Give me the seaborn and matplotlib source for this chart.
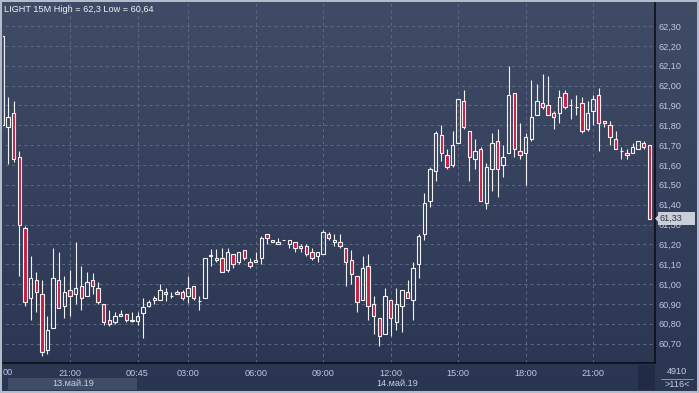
import numpy as np
import pandas as pd
import seaborn as sns
import matplotlib
matplotlib.use("Agg")
import matplotlib.pyplot as plt
from matplotlib.colors import LinearSegmentedColormap
from matplotlib.patches import Rectangle, Polygon
from matplotlib.lines import Line2D

# ---------------- data (15-minute candles, 116 visible) ----------------
opens = [62.25, 61.79, 61.86, 61.64, 61.28, 60.93, 61.02, 60.95, 60.67, 60.78,
         61.02, 60.89, 60.97, 60.95, 60.99, 60.94, 61.02, 60.98, 60.90, 60.82,
         60.81, 60.85, 60.85, 60.815, 60.815, 60.855, 60.89, 60.92, 60.92, 60.96,
         60.94, 60.96, 60.96, 60.94, 60.99, 60.915, 60.93, 61.14, 61.13, 61.13,
         61.07, 61.15, 61.11, 61.17, 61.11, 61.11, 61.13, 61.25, 61.22, 61.20,
         61.22, 61.20, 61.21, 61.19, 61.19, 61.16, 61.14, 61.15, 61.25, 61.21,
         61.21, 61.18, 61.12, 61.04, 60.92, 61.09, 60.90, 60.83, 60.75, 60.92,
         60.81, 60.89, 60.96, 60.92, 61.10, 61.25, 61.42, 61.57, 61.75, 61.65,
         61.60, 61.71, 61.92, 61.77, 61.63, 61.68, 61.41, 61.58, 61.72, 61.60,
         61.66, 61.96, 61.67, 61.66, 61.73, 61.85, 61.91, 61.90, 61.86, 61.86,
         61.96, 61.90, 61.89, 61.91, 61.78, 61.87, 61.95, 61.82, 61.80, 61.73,
         61.67, 61.66, 61.66, 61.68, 61.71, 61.70]
highs = [62.26, 61.94, 61.92, 61.67, 61.29, 61.14, 61.06, 61.02, 60.84, 61.18,
         61.16, 61.04, 61.07, 61.21, 61.09, 61.06, 61.055, 61.01, 60.90, 60.87,
         60.86, 60.87, 60.85, 60.86, 60.86, 60.93, 60.92, 60.94, 61.00, 60.98,
         60.96, 60.97, 60.97, 61.04, 60.99, 60.94, 61.13, 61.175, 61.175, 61.18,
         61.18, 61.15, 61.16, 61.17, 61.13, 61.16, 61.24, 61.25, 61.22, 61.23,
         61.22, 61.22, 61.21, 61.20, 61.20, 61.18, 61.16, 61.27, 61.26, 61.25,
         61.25, 61.18, 61.17, 61.04, 61.14, 61.15, 60.94, 60.83, 60.98, 60.92,
         60.98, 60.97, 61.02, 61.11, 61.25, 61.46, 61.59, 61.77, 61.80, 61.68,
         61.77, 61.93, 61.98, 61.77, 61.73, 61.69, 61.61, 61.76, 61.78, 61.70,
         62.10, 61.96, 61.81, 61.76, 62.03, 62.01, 62.06, 62.05, 61.87, 61.98,
         61.98, 61.93, 61.95, 61.94, 61.92, 61.95, 61.99, 61.82, 61.82, 61.77,
         61.69, 61.68, 61.71, 61.72, 61.72, 61.70]
lows = [61.78, 61.605, 61.617, 61.04, 60.89, 60.82, 60.86, 60.64, 60.65, 60.78,
        60.88, 60.83, 60.84, 60.90, 60.87, 60.94, 60.95, 60.90, 60.795, 60.79,
        60.80, 60.84, 60.81, 60.81, 60.795, 60.73, 60.885, 60.90, 60.92, 60.915,
        60.93, 60.95, 60.92, 60.905, 60.92, 60.87, 60.93, 61.09, 61.11, 61.06,
        61.06, 61.08, 61.10, 61.12, 61.08, 61.11, 61.10, 61.20, 61.21, 61.20,
        61.22, 61.18, 61.16, 61.16, 61.14, 61.12, 61.11, 61.15, 61.22, 61.19,
        61.18, 60.99, 61.00, 60.86, 60.92, 60.82, 60.75, 60.69, 60.75, 60.74,
        60.77, 60.76, 60.93, 60.82, 61.03, 61.22, 61.39, 61.52, 61.62, 61.58,
        61.59, 61.71, 61.78, 61.52, 61.58, 61.42, 61.38, 61.47, 61.44, 61.54,
        61.66, 61.64, 61.63, 61.50, 61.72, 61.85, 61.88, 61.85, 61.78, 61.81,
        61.88, 61.83, 61.85, 61.76, 61.77, 61.80, 61.67, 61.79, 61.70, 61.68,
        61.63, 61.63, 61.66, 61.68, 61.68, 61.33]
closes = [61.80, 61.84, 61.63, 61.30, 60.91, 61.03, 60.96, 60.66, 60.77, 61.03,
          60.88, 60.96, 60.94, 60.98, 60.93, 61.01, 60.99, 60.91, 60.81, 60.80,
          60.84, 60.84, 60.82, 60.82, 60.84, 60.885, 60.91, 60.93, 60.97, 60.95,
          60.94, 60.95, 60.93, 60.98, 60.93, 60.915, 61.13, 61.145, 61.12, 61.06,
          61.16, 61.10, 61.16, 61.13, 61.09, 61.12, 61.23, 61.23, 61.21, 61.21,
          61.22, 61.22, 61.18, 61.18, 61.15, 61.13, 61.16, 61.26, 61.23, 61.22,
          61.19, 61.11, 61.05, 60.91, 61.08, 60.89, 60.84, 60.74, 60.94, 60.83,
          60.90, 60.97, 60.93, 61.08, 61.24, 61.41, 61.58, 61.76, 61.66, 61.59,
          61.70, 61.93, 61.79, 61.64, 61.67, 61.42, 61.59, 61.71, 61.58, 61.64,
          61.95, 61.68, 61.65, 61.74, 61.84, 61.92, 61.89, 61.85, 61.84, 61.94,
          61.89, 61.90, 61.89, 61.77, 61.86, 61.93, 61.81, 61.81, 61.74, 61.68,
          61.67, 61.65, 61.69, 61.72, 61.69, 61.33]

time_ticks = [12, 24, 33, 45, 57, 69, 81, 93, 105]
time_labels = ["21:00", "00:45", "03:00", "06:00", "09:00", "12:00", "15:00", "18:00", "21:00"]
price_levels = [60.70, 60.80, 60.90, 61.00, 61.10, 61.20, 61.30, 61.40, 61.50,
                61.60, 61.70, 61.80, 61.90, 62.00, 62.10, 62.20, 62.30]
date_labels = ["13.май.19", "14.май.19"]
title_text = "LIGHT 15M High = 62,3 Low = 60,64"
last_price = 61.33

# ---------------- style ----------------
sns.set_theme(style="dark")
plt.rcParams["font.family"] = ["Liberation Sans", "DejaVu Sans"]
plt.rcParams["axes.unicode_minus"] = False

W, H = 699, 393
fig = plt.figure(figsize=(W / 100, H / 100), dpi=100)

def fx(px):
    return px / W

def fy(py):
    return 1 - py / H

# background gradient over the whole figure
bg = fig.add_axes([0, 0, 1, 1])
bg.axis("off")
grad = np.linspace(0, 1, 256)[:, None]
cmap = LinearSegmentedColormap.from_list("bg", ["#404c66", "#2a3552"])
bg.imshow(grad, aspect="auto", cmap=cmap, extent=[0, 1, 0, 1], origin="upper")
bg.set_xlim(0, 1)
bg.set_ylim(0, 1)

# main plotting axes
left, right, top, bottom = 3, 655, 3, 363
ax = fig.add_axes([fx(left), fy(bottom), fx(right - left), (bottom - top) / H])
ax.set_facecolor("none")

df = pd.DataFrame({"open": opens, "high": highs, "low": lows, "close": closes})
df["idx"] = np.arange(len(df))
df["top"] = df[["open", "close"]].max(axis=1)
df["bot"] = df[["open", "close"]].min(axis=1)
up = df["close"] >= df["open"]

# grid
grid_kw = dict(color="#5a6884", lw=0.75, linestyle=(0, (3, 3)), zorder=1)
ax.hlines(price_levels, -1, 120, **grid_kw)
ax.vlines(time_ticks, 60.0, 63.0, **grid_kw)

# wicks
wick_c = "#f2f2f2"
ax.vlines(df["idx"], df["top"], df["high"], color=wick_c, lw=0.8, zorder=3)
ax.vlines(df["idx"], df["low"], df["bot"], color=wick_c, lw=0.8, zorder=3)

# bodies
red = "#c91c42"
d_dn = df[~up]
d_up = df[up]
ax.bar(d_dn["idx"], d_dn["top"] - d_dn["bot"], bottom=d_dn["bot"], width=0.6,
       color=red, edgecolor=wick_c, linewidth=0.8, zorder=4)
ax.bar(d_up["idx"], d_up["top"] - d_up["bot"], bottom=d_up["bot"], width=0.6,
       facecolor="none", edgecolor=wick_c, linewidth=0.8, zorder=4)

ax.set_xlim(0.09, 115.99)
y_top = 62.30 + (26 - top) / 198.5
y_bot = 62.30 - (bottom - 26) / 198.5
ax.set_ylim(y_bot, y_top)

# axes decoration
for s in ["left", "top"]:
    ax.spines[s].set_visible(False)
for s in ["right", "bottom"]:
    ax.spines[s].set_visible(True)
    ax.spines[s].set_color("#0c0f18")
    ax.spines[s].set_linewidth(1.2)

tick_c = "#bcc8df"
ax.yaxis.tick_right()
ax.set_yticks(price_levels)
ax.set_yticklabels([f"{v:.2f}".replace(".", ",") for v in price_levels])
ax.tick_params(axis="y", length=0, pad=2.5, labelsize=6.6, labelcolor=tick_c)
ax.set_xticks(time_ticks)
ax.set_xticklabels(time_labels)
ax.tick_params(axis="x", length=0, pad=4, labelsize=6.6, labelcolor=tick_c)
ax.grid(False)

# title
fig.text(fx(4), fy(9.5), title_text, color="#eef1f6", fontsize=6.6,
         ha="left", va="center")

# partial first time label
fig.text(fx(3), fy(372.5), "00", color=tick_c, fontsize=6.6, ha="left", va="center")

# date strip
fig.add_artist(Rectangle((fx(8), fy(390)), fx(129), 12 / H, transform=fig.transFigure,
                         facecolor="#414d66", edgecolor="none", zorder=2))
fig.text(fx(73), fy(384), date_labels[0], color="#c4cde0", fontsize=6.6,
         ha="center", va="center", zorder=3)
fig.text(fx(397), fy(384), date_labels[1], color="#c4cde0", fontsize=6.6,
         ha="center", va="center", zorder=3)
fig.add_artist(Rectangle((fx(638), fy(390)), fx(17), 25 / H, transform=fig.transFigure,
                         facecolor="#222b45", edgecolor="none", zorder=2))

# corner info box
fig.text(fx(677), fy(372), "4910", color="#c4cde0", fontsize=6.6, ha="center", va="center")
fig.add_artist(Line2D([fx(661), fx(693)], [fy(378.5), fy(378.5)], transform=fig.transFigure,
                      color="#8894aa", lw=0.7))
fig.text(fx(677), fy(384.5), ">116<", color="#c4cde0", fontsize=6.6, ha="center", va="center")

# last price marker
yl = ax.transData.transform((0, last_price))[1] / (H)
fig.add_artist(Rectangle((fx(657.5), yl - 6.5 / H), fx(37.5), 13 / H, transform=fig.transFigure,
                         facecolor="#c9ced8", edgecolor="none", zorder=5))
fig.add_artist(Polygon([(fx(655), yl), (fx(658.5), yl + 3.5 / H), (fx(658.5), yl - 3.5 / H)],
                       closed=True, transform=fig.transFigure, facecolor="#c9ced8",
                       edgecolor="none", zorder=5))
fig.text(fx(660), yl, f"{last_price:.2f}".replace(".", ","), color="#2e3544", fontsize=6.6,
         ha="left", va="center", zorder=6)

# outer frame
fig.add_artist(Rectangle((0, 0), 1, 1, transform=fig.transFigure, facecolor="none",
                         edgecolor="#b3bccb", lw=2.9, zorder=10))

fig.savefig("out.png", dpi=100)
